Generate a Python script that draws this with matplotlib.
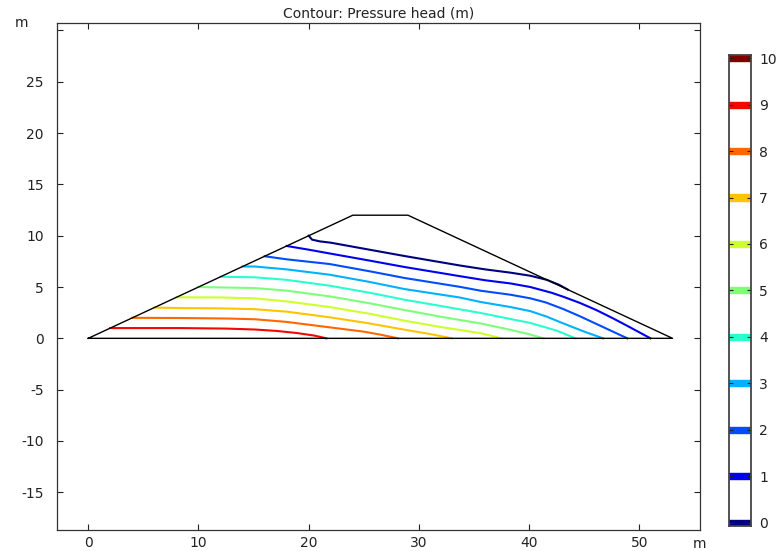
import matplotlib.pyplot as plt
import numpy as np

# dam outline (m)
dam_x = [0, 24, 29, 53, 0]
dam_y = [0, 12, 12, 0, 0]

# pressure head contour levels and the points
levels = [0, 1, 2, 3, 4, 5, 6, 7, 8, 9]
line_x = [
    [20.0, 20.3, 21.0, 22.0, 25.5, 28.7, 33.7, 36.0, 38.3, 40.1, 41.6, 42.7, 43.5],
    [18.0, 20.0, 21.9, 25.5, 28.7, 33.7, 36.0, 38.3, 40.1, 42.0, 43.1, 44.6, 46.1, 47.6, 49.1, 51.0],
    [16.0, 18.0, 21.9, 25.5, 28.7, 33.7, 35.6, 38.3, 40.1, 41.5, 43.1, 44.6, 46.1, 47.5, 48.9],
    [14.0, 15.1, 18.0, 21.9, 25.5, 28.7, 33.7, 35.6, 38.3, 40.1, 41.5, 43.1, 45.0, 46.7],
    [12.0, 15.1, 18.0, 21.9, 25.5, 28.7, 32.0, 35.6, 38.0, 40.1, 42.5, 44.2],
    [10.0, 15.1, 18.0, 21.9, 25.5, 28.7, 32.0, 35.6, 38.0, 40.0, 41.3],
    [8.0, 12.0, 15.1, 18.0, 21.9, 25.5, 28.7, 32.0, 33.7, 35.6, 37.5],
    [6.0, 8.3, 12.0, 15.1, 18.0, 21.9, 25.3, 28.7, 31.0, 33.0],
    [4.0, 8.3, 12.6, 15.1, 18.0, 21.9, 25.0, 26.5, 28.1],
    [2.0, 8.3, 12.5, 15.1, 17.1, 18.9, 20.5, 21.6],
]
line_y = [
    [10.0, 9.62, 9.45, 9.32, 8.64, 8.02, 7.10, 6.72, 6.40, 6.10, 5.70, 5.22, 4.75],
    [9.0, 8.64, 8.27, 7.58, 6.95, 6.06, 5.66, 5.35, 5.00, 4.45, 4.05, 3.45, 2.75, 1.95, 1.10, 0.0],
    [8.0, 7.7, 7.24, 6.54, 5.88, 5.02, 4.64, 4.25, 3.90, 3.50, 2.85, 2.15, 1.40, 0.70, 0.0],
    [7.0, 7.0, 6.72, 6.2, 5.5, 4.8, 3.98, 3.54, 3.05, 2.65, 2.15, 1.45, 0.65, 0.0],
    [6.0, 5.95, 5.7, 5.13, 4.45, 3.76, 3.15, 2.47, 1.95, 1.50, 0.75, 0.0],
    [5.0, 4.9, 4.65, 4.09, 3.42, 2.76, 2.1, 1.45, 0.90, 0.40, 0.0],
    [4.0, 3.98, 3.90, 3.6, 3.05, 2.4, 1.72, 1.1, 0.82, 0.50, 0.0],
    [3.0, 2.95, 2.92, 2.84, 2.6, 2.05, 1.49, 0.84, 0.42, 0.0],
    [2.0, 1.98, 1.93, 1.86, 1.6, 1.07, 0.65, 0.36, 0.0],
    [1.0, 1.0, 0.95, 0.86, 0.72, 0.52, 0.27, 0.0],
]
cbar_ticks = [0, 1, 2, 3, 4, 5, 6, 7, 8, 9, 10]

cmap = plt.get_cmap('jet')
plt.rcParams['font.family'] = 'DejaVu Sans'

fig = plt.figure(figsize=(7.77, 5.51), dpi=100)
ax = fig.add_axes([0.074, 0.0381, 0.827, 0.9207])

ax.plot(dam_x, dam_y, color='black', lw=1.0, zorder=3)
for lev, xs, ys in zip(levels, line_x, line_y):
    ax.plot(xs, ys, color=cmap(lev / 10), lw=1.5, zorder=2)

ax.set_xlim(-2.79, 55.5)
ax.set_ylim(-18.68, 30.76)
ax.set_xticks([0, 10, 20, 30, 40, 50])
ax.set_yticks([-15, -10, -5, 0, 5, 10, 15, 20, 25, 30])
ax.set_yticklabels(['-15', '-10', '-5', '0', '5', '10', '15', '20', '25', ''])
ax.tick_params(direction='in', top=True, right=True, length=4, labelsize=10,
               colors='#222222')
ax.tick_params(axis='y', pad=10)
ax.tick_params(axis='x', pad=4)
for sp in ax.spines.values():
    sp.set_color('#333333')
    sp.set_linewidth(0.9)
ax.set_title('Contour: Pressure head (m)', fontsize=10, color='#222222', pad=4)

fig.text(15 / 777, 1 - 23 / 551, 'm', fontsize=10, color='#222222', ha='left', va='center')
fig.text(700 / 777, 1 - 544 / 551, 'm', fontsize=10, color='#222222', ha='center', va='center')

# colour legend
cax = fig.add_axes([0.938, 0.0454, 0.0283, 0.855])
cax.set_xlim(0, 1)
cax.set_ylim(-0.07, 10.07)
for t in cbar_ticks:
    cax.axhspan(t - 0.065, t + 0.065, color=cmap(t / 10))
cax.set_xticks([])
cax.set_yticks(cbar_ticks)
cax.yaxis.tick_right()
cax.tick_params(axis='y', direction='in', left=True, right=True, length=3,
                labelsize=10, colors='#222222', pad=6)
for sp in cax.spines.values():
    sp.set_color('#444444')
    sp.set_linewidth(1.3)

fig.savefig('out.png', dpi=100)
